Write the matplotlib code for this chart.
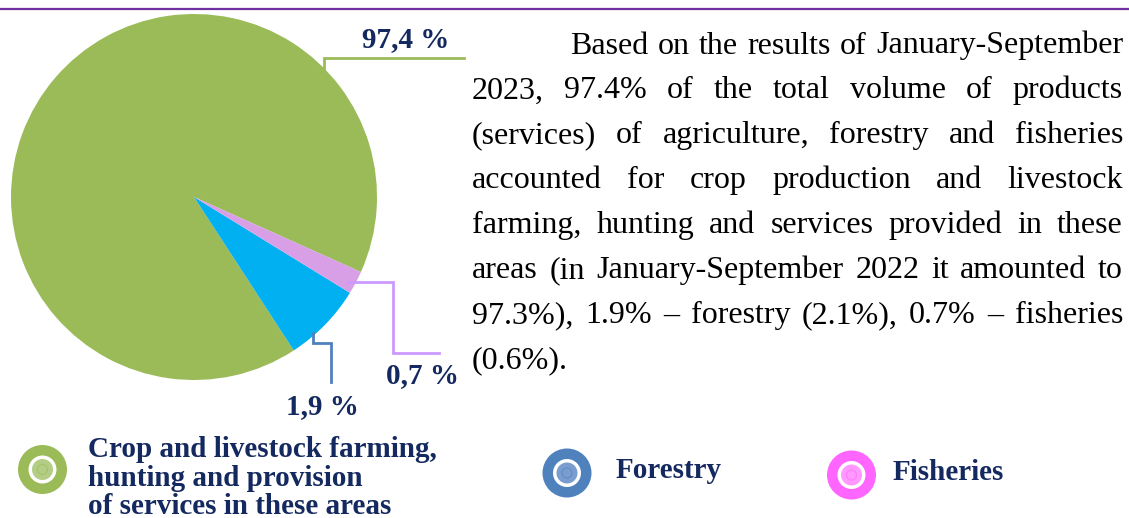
"""
Share of agriculture, forestry and fisheries output, Jan-Sep 2023:
pie chart with elbow leader labels, justified commentary and a ring-marker legend.
"""

import matplotlib
matplotlib.use('Agg')
import matplotlib.pyplot as plt
from matplotlib.patches import Circle
from matplotlib.font_manager import FontProperties

W, H = 1129, 518   # output size in pixels (1 data unit = 1 pixel)

# --- data -------------------------------------------------------------------
SECTORS = ["Crop and livestock farming,\nhunting and provision\nof services in these areas",
           "Forestry", "Fisheries"]
# wedge sizes as drawn in the source picture (they do not follow the printed labels)
WEDGE_SHARES = [90.9, 7.05, 2.05]
SHARE_LABELS = ["97,4 %", "1,9 %", "0,7 %"]

PARAGRAPH = [
    "Based on the results of January-September",
    "2023, 97.4% of the total volume of products",
    "(services) of agriculture, forestry and fisheries",
    "accounted for crop production and livestock",
    "farming, hunting and services provided in these",
    "areas (in January-September 2022 it amounted to",
    "97.3%), 1.9% \u2013 forestry (2.1%), 0.7% \u2013 fisheries",
    "(0.6%).",
]

# --- style ------------------------------------------------------------------
PIE_COLORS = ['#9BBB59', '#00B0F0', '#D99FE6']
LEADER_COLORS = ['#9BBB59', '#4F81BD', '#CC99FF']
LEGEND_COLORS = ['#9BBB59', '#4F81BD', '#FF66FF']
LEGEND_INNER = ['#B3CD85', '#7A9CCF', '#FF99FF']
NAVY = '#14295F'
PIE_CENTER = (194, 197)
PIE_RADIUS = 183

# elbow leader paths and label anchors (pixels, y down)
LEADERS = [
    [(324, 68), (324, 58), (464, 58)],
    [(313, 333), (313, 343), (331, 343), (331, 382)],
    [(348, 282), (393, 282), (393, 353), (439, 353)],
]
LABEL_POS = [(406, 47), (322, 414), (422, 383)]


def draw_justified(ax, renderer, lines, x0, x1, y0, step, fp, indent):
    """Place words one by one so every line but the last fills x0..x1."""
    space_w = renderer.get_text_width_height_descent(' ', fp, ismath=False)[0]
    for i, line in enumerate(lines):
        words = line.split(' ')
        left = x0 + (indent if i == 0 else 0)
        widths = [renderer.get_text_width_height_descent(w, fp, ismath=False)[0] for w in words]
        if i == len(lines) - 1 or len(words) == 1:
            gap = space_w
        else:
            gap = (x1 - left - sum(widths)) / (len(words) - 1)
        x = left
        for w, ww in zip(words, widths):
            ax.text(x, y0 + i * step, w, fontproperties=fp, color='black',
                    ha='left', va='baseline')
            x += ww + gap


def ring_marker(ax, xy, outer, inner):
    ax.add_patch(Circle(xy, 24.5, color=outer, lw=0))
    ax.add_patch(Circle(xy, 14, color='white', lw=0))
    ax.add_patch(Circle(xy, 10.5, color=inner, lw=0))
    ax.add_patch(Circle(xy, 5, facecolor='none', edgecolor=outer, lw=0.8, alpha=0.6))


def main():
    fig = plt.figure(figsize=(W / 100, H / 100), dpi=100, facecolor='white')
    ax = fig.add_axes([0, 0, 1, 1])

    # y axis points down, so clockwise here is counter-clockwise on screen
    ax.pie(WEDGE_SHARES, colors=PIE_COLORS, startangle=24.2, counterclock=False,
           center=PIE_CENTER, radius=PIE_RADIUS, wedgeprops=dict(linewidth=0))
    ax.set_xlim(0, W)
    ax.set_ylim(H, 0)
    ax.set_aspect('equal')
    ax.axis('off')

    # top rule
    ax.plot([0, W], [8.5, 8.5], color='#7030A0', lw=1.6, solid_capstyle='butt')

    bold = FontProperties(family='Liberation Serif', weight='bold', size=21)
    for path, col, lab, (lx, ly) in zip(LEADERS, LEADER_COLORS, SHARE_LABELS, LABEL_POS):
        xs, ys = zip(*path)
        ax.plot(xs, ys, color=col, lw=2, solid_joinstyle='miter')
        ax.text(lx, ly, lab, fontproperties=bold, color=NAVY, ha='center', va='baseline')

    # commentary paragraph
    renderer = fig.canvas.get_renderer()
    regular = FontProperties(family='Liberation Serif', size=23)
    draw_justified(ax, renderer, PARAGRAPH, 472, 1123, 53.5, 44.9, regular, indent=98)

    # legend
    marker_xy = [(42.5, 469.5), (567, 473), (851.5, 475)]
    text_xy = [(88, 457), (616, 478), (893, 480)]
    for name, (mx, my), (tx, ty), oc, ic in zip(SECTORS, marker_xy, text_xy,
                                                LEGEND_COLORS, LEGEND_INNER):
        ring_marker(ax, (mx, my), oc, ic)
        for k, part in enumerate(name.split('\n')):
            ax.text(tx, ty + k * 28.5, part, fontproperties=bold, color=NAVY,
                    ha='left', va='baseline')

    fig.savefig('out.png', dpi=100, facecolor='white')
    plt.close(fig)


if __name__ == '__main__':
    main()
